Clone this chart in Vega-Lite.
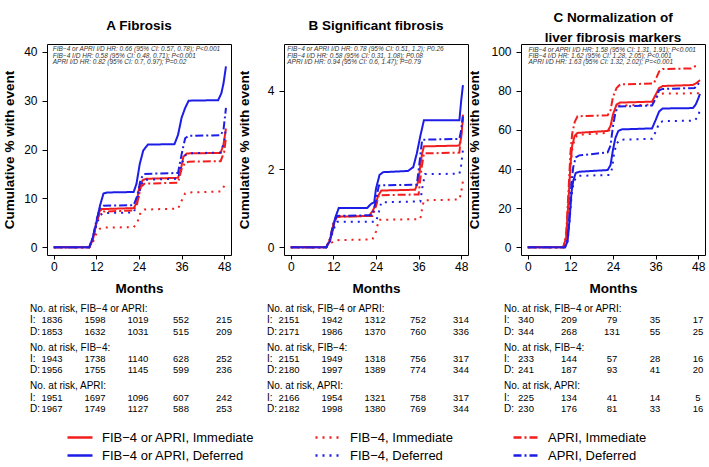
{
"$schema": "https://vega.github.io/schema/vega-lite/v6.json",
"background": "white",
"padding": {"left": 2, "top": 10, "right": 5, "bottom": 5},
"config": {
  "font": "Liberation Sans",
  "view": {"stroke": "#000", "strokeWidth": 1},
  "axis": {"grid": false, "domain": false, "tickColor": "#000", "labelColor": "#000", "titleColor": "#000", "labelFontSize": 12, "titleFontSize": 13.5, "titleFontWeight": "bold", "labelFont": "Liberation Sans", "titleFont": "Liberation Sans"},
  "axisX": {"tickSize": 4, "labelPadding": 2, "titlePadding": 9},
  "axisY": {"tickSize": 5, "labelPadding": 5},
  "title": {"fontSize": 13.5, "fontWeight": "bold", "color": "#000", "font": "Liberation Sans", "anchor": "middle", "baseline": "bottom", "lineHeight": 20},
  "legend": {"orient": "bottom", "direction": "horizontal", "columns": 3, "symbolType": "stroke", "symbolSize": 625, "symbolStrokeWidth": 2.5, "labelFontSize": 13, "labelFont": "Liberation Sans", "labelColor": "#000", "columnPadding": 59, "rowPadding": 3, "clipHeight": 15, "labelOffset": 8, "labelLimit": 400, "offset": -3, "padding": 19}
},
"datasets": {
"curves": [
{"p":"A","s":"FIB−4 or APRI, Immediate","m":0,"v":0},{"p":"A","s":"FIB−4 or APRI, Immediate","m":10,"v":0},{"p":"A","s":"FIB−4 or APRI, Immediate","m":11,"v":1.5},{"p":"A","s":"FIB−4 or APRI, Immediate","m":12,"v":5},{"p":"A","s":"FIB−4 or APRI, Immediate","m":12.7,"v":7.2},{"p":"A","s":"FIB−4 or APRI, Immediate","m":13.5,"v":7.8},{"p":"A","s":"FIB−4 or APRI, Immediate","m":22.5,"v":8},{"p":"A","s":"FIB−4 or APRI, Immediate","m":23.3,"v":9},{"p":"A","s":"FIB−4 or APRI, Immediate","m":24,"v":12},{"p":"A","s":"FIB−4 or APRI, Immediate","m":25,"v":13.7},{"p":"A","s":"FIB−4 or APRI, Immediate","m":26,"v":14},{"p":"A","s":"FIB−4 or APRI, Immediate","m":35,"v":14.2},{"p":"A","s":"FIB−4 or APRI, Immediate","m":35.8,"v":16},{"p":"A","s":"FIB−4 or APRI, Immediate","m":36.5,"v":18.5},{"p":"A","s":"FIB−4 or APRI, Immediate","m":37.5,"v":19.2},{"p":"A","s":"FIB−4 or APRI, Immediate","m":47,"v":19.3},{"p":"A","s":"FIB−4 or APRI, Immediate","m":47.8,"v":21},{"p":"A","s":"FIB−4 or APRI, Immediate","m":48.5,"v":24.3},
{"p":"A","s":"FIB−4 or APRI, Deferred","m":0,"v":0},{"p":"A","s":"FIB−4 or APRI, Deferred","m":10,"v":0},{"p":"A","s":"FIB−4 or APRI, Deferred","m":11,"v":2},{"p":"A","s":"FIB−4 or APRI, Deferred","m":12,"v":5},{"p":"A","s":"FIB−4 or APRI, Deferred","m":13,"v":8.5},{"p":"A","s":"FIB−4 or APRI, Deferred","m":14,"v":11},{"p":"A","s":"FIB−4 or APRI, Deferred","m":15,"v":11.2},{"p":"A","s":"FIB−4 or APRI, Deferred","m":22.5,"v":11.3},{"p":"A","s":"FIB−4 or APRI, Deferred","m":23.3,"v":13},{"p":"A","s":"FIB−4 or APRI, Deferred","m":24.2,"v":17},{"p":"A","s":"FIB−4 or APRI, Deferred","m":25.2,"v":19.8},{"p":"A","s":"FIB−4 or APRI, Deferred","m":26.5,"v":21},{"p":"A","s":"FIB−4 or APRI, Deferred","m":34,"v":21.1},{"p":"A","s":"FIB−4 or APRI, Deferred","m":35,"v":23},{"p":"A","s":"FIB−4 or APRI, Deferred","m":36,"v":26.5},{"p":"A","s":"FIB−4 or APRI, Deferred","m":37,"v":28.5},{"p":"A","s":"FIB−4 or APRI, Deferred","m":38,"v":30},{"p":"A","s":"FIB−4 or APRI, Deferred","m":46.3,"v":30.1},{"p":"A","s":"FIB−4 or APRI, Deferred","m":47.2,"v":31.5},{"p":"A","s":"FIB−4 or APRI, Deferred","m":47.8,"v":33.5},{"p":"A","s":"FIB−4 or APRI, Deferred","m":48.5,"v":37},
{"p":"A","s":"FIB−4, Immediate","m":0,"v":0},{"p":"A","s":"FIB−4, Immediate","m":10,"v":0},{"p":"A","s":"FIB−4, Immediate","m":11,"v":1},{"p":"A","s":"FIB−4, Immediate","m":12,"v":2.8},{"p":"A","s":"FIB−4, Immediate","m":13,"v":3.8},{"p":"A","s":"FIB−4, Immediate","m":14,"v":4},{"p":"A","s":"FIB−4, Immediate","m":22.5,"v":4.1},{"p":"A","s":"FIB−4, Immediate","m":23.5,"v":5},{"p":"A","s":"FIB−4, Immediate","m":24.5,"v":7.2},{"p":"A","s":"FIB−4, Immediate","m":25.5,"v":7.7},{"p":"A","s":"FIB−4, Immediate","m":35,"v":7.9},{"p":"A","s":"FIB−4, Immediate","m":36,"v":9.5},{"p":"A","s":"FIB−4, Immediate","m":37,"v":11},{"p":"A","s":"FIB−4, Immediate","m":38,"v":11.2},{"p":"A","s":"FIB−4, Immediate","m":47,"v":11.4},{"p":"A","s":"FIB−4, Immediate","m":48,"v":12.5},{"p":"A","s":"FIB−4, Immediate","m":48.5,"v":13.5},
{"p":"A","s":"FIB−4, Deferred","m":0,"v":0},{"p":"A","s":"FIB−4, Deferred","m":10,"v":0},{"p":"A","s":"FIB−4, Deferred","m":11,"v":1.5},{"p":"A","s":"FIB−4, Deferred","m":12,"v":4.5},{"p":"A","s":"FIB−4, Deferred","m":13,"v":6.5},{"p":"A","s":"FIB−4, Deferred","m":14,"v":7},{"p":"A","s":"FIB−4, Deferred","m":22.5,"v":7.1},{"p":"A","s":"FIB−4, Deferred","m":23.5,"v":9},{"p":"A","s":"FIB−4, Deferred","m":24.5,"v":12.5},{"p":"A","s":"FIB−4, Deferred","m":25.5,"v":13.8},{"p":"A","s":"FIB−4, Deferred","m":35,"v":14},{"p":"A","s":"FIB−4, Deferred","m":36,"v":17},{"p":"A","s":"FIB−4, Deferred","m":37,"v":18.8},{"p":"A","s":"FIB−4, Deferred","m":38,"v":19.2},{"p":"A","s":"FIB−4, Deferred","m":47,"v":19.4},{"p":"A","s":"FIB−4, Deferred","m":48,"v":21.5},{"p":"A","s":"FIB−4, Deferred","m":48.5,"v":24.5},
{"p":"A","s":"APRI, Immediate","m":0,"v":0},{"p":"A","s":"APRI, Immediate","m":10,"v":0},{"p":"A","s":"APRI, Immediate","m":11,"v":1.5},{"p":"A","s":"APRI, Immediate","m":12,"v":5},{"p":"A","s":"APRI, Immediate","m":13,"v":7},{"p":"A","s":"APRI, Immediate","m":14,"v":7.3},{"p":"A","s":"APRI, Immediate","m":22.5,"v":7.5},{"p":"A","s":"APRI, Immediate","m":23.5,"v":9},{"p":"A","s":"APRI, Immediate","m":24.5,"v":12.3},{"p":"A","s":"APRI, Immediate","m":25.5,"v":13},{"p":"A","s":"APRI, Immediate","m":35,"v":13.2},{"p":"A","s":"APRI, Immediate","m":36,"v":16},{"p":"A","s":"APRI, Immediate","m":37,"v":17.3},{"p":"A","s":"APRI, Immediate","m":38,"v":17.5},{"p":"A","s":"APRI, Immediate","m":47,"v":17.6},{"p":"A","s":"APRI, Immediate","m":48,"v":19.5},{"p":"A","s":"APRI, Immediate","m":48.5,"v":22.5},
{"p":"A","s":"APRI, Deferred","m":0,"v":0},{"p":"A","s":"APRI, Deferred","m":10,"v":0},{"p":"A","s":"APRI, Deferred","m":11,"v":2},{"p":"A","s":"APRI, Deferred","m":12,"v":5.5},{"p":"A","s":"APRI, Deferred","m":13,"v":8},{"p":"A","s":"APRI, Deferred","m":14,"v":8.5},{"p":"A","s":"APRI, Deferred","m":22.5,"v":8.6},{"p":"A","s":"APRI, Deferred","m":23.5,"v":10.5},{"p":"A","s":"APRI, Deferred","m":24.5,"v":14},{"p":"A","s":"APRI, Deferred","m":25.5,"v":15},{"p":"A","s":"APRI, Deferred","m":35,"v":15.2},{"p":"A","s":"APRI, Deferred","m":36,"v":19},{"p":"A","s":"APRI, Deferred","m":37,"v":22.3},{"p":"A","s":"APRI, Deferred","m":38,"v":22.8},{"p":"A","s":"APRI, Deferred","m":47,"v":22.9},{"p":"A","s":"APRI, Deferred","m":47.8,"v":24},{"p":"A","s":"APRI, Deferred","m":48.5,"v":28.5},
{"p":"B","s":"FIB−4 or APRI, Immediate","m":0,"v":0},{"p":"B","s":"FIB−4 or APRI, Immediate","m":10,"v":0},{"p":"B","s":"FIB−4 or APRI, Immediate","m":10.8,"v":0.15},{"p":"B","s":"FIB−4 or APRI, Immediate","m":11.5,"v":0.35},{"p":"B","s":"FIB−4 or APRI, Immediate","m":12,"v":0.6},{"p":"B","s":"FIB−4 or APRI, Immediate","m":12.5,"v":0.72},{"p":"B","s":"FIB−4 or APRI, Immediate","m":13,"v":0.78},{"p":"B","s":"FIB−4 or APRI, Immediate","m":22,"v":0.8},{"p":"B","s":"FIB−4 or APRI, Immediate","m":23,"v":0.92},{"p":"B","s":"FIB−4 or APRI, Immediate","m":24,"v":1.1},{"p":"B","s":"FIB−4 or APRI, Immediate","m":24.5,"v":1.3},{"p":"B","s":"FIB−4 or APRI, Immediate","m":25.5,"v":1.45},{"p":"B","s":"FIB−4 or APRI, Immediate","m":35,"v":1.47},{"p":"B","s":"FIB−4 or APRI, Immediate","m":36,"v":1.7},{"p":"B","s":"FIB−4 or APRI, Immediate","m":36.5,"v":2.1},{"p":"B","s":"FIB−4 or APRI, Immediate","m":37,"v":2.4},{"p":"B","s":"FIB−4 or APRI, Immediate","m":37.5,"v":2.58},{"p":"B","s":"FIB−4 or APRI, Immediate","m":47.5,"v":2.6},{"p":"B","s":"FIB−4 or APRI, Immediate","m":48,"v":2.8},{"p":"B","s":"FIB−4 or APRI, Immediate","m":48.5,"v":3.3},
{"p":"B","s":"FIB−4 or APRI, Deferred","m":0,"v":0},{"p":"B","s":"FIB−4 or APRI, Deferred","m":10,"v":0},{"p":"B","s":"FIB−4 or APRI, Deferred","m":11,"v":0.15},{"p":"B","s":"FIB−4 or APRI, Deferred","m":12,"v":0.5},{"p":"B","s":"FIB−4 or APRI, Deferred","m":12.5,"v":0.75},{"p":"B","s":"FIB−4 or APRI, Deferred","m":13.5,"v":1},{"p":"B","s":"FIB−4 or APRI, Deferred","m":21.5,"v":1},{"p":"B","s":"FIB−4 or APRI, Deferred","m":22.5,"v":1.1},{"p":"B","s":"FIB−4 or APRI, Deferred","m":23.5,"v":1.15},{"p":"B","s":"FIB−4 or APRI, Deferred","m":24,"v":1.5},{"p":"B","s":"FIB−4 or APRI, Deferred","m":25,"v":1.85},{"p":"B","s":"FIB−4 or APRI, Deferred","m":26,"v":1.92},{"p":"B","s":"FIB−4 or APRI, Deferred","m":33,"v":1.95},{"p":"B","s":"FIB−4 or APRI, Deferred","m":34.5,"v":2.05},{"p":"B","s":"FIB−4 or APRI, Deferred","m":35.5,"v":2.4},{"p":"B","s":"FIB−4 or APRI, Deferred","m":36.5,"v":2.85},{"p":"B","s":"FIB−4 or APRI, Deferred","m":37.5,"v":3.25},{"p":"B","s":"FIB−4 or APRI, Deferred","m":47.5,"v":3.25},{"p":"B","s":"FIB−4 or APRI, Deferred","m":48,"v":3.75},{"p":"B","s":"FIB−4 or APRI, Deferred","m":48.5,"v":4.15},
{"p":"B","s":"FIB−4, Immediate","m":0,"v":0},{"p":"B","s":"FIB−4, Immediate","m":10,"v":0},{"p":"B","s":"FIB−4, Immediate","m":11,"v":0.08},{"p":"B","s":"FIB−4, Immediate","m":12,"v":0.15},{"p":"B","s":"FIB−4, Immediate","m":13,"v":0.18},{"p":"B","s":"FIB−4, Immediate","m":23,"v":0.2},{"p":"B","s":"FIB−4, Immediate","m":24,"v":0.4},{"p":"B","s":"FIB−4, Immediate","m":24.8,"v":0.7},{"p":"B","s":"FIB−4, Immediate","m":36.5,"v":0.72},{"p":"B","s":"FIB−4, Immediate","m":37,"v":1},{"p":"B","s":"FIB−4, Immediate","m":37.5,"v":1.2},{"p":"B","s":"FIB−4, Immediate","m":47.5,"v":1.22},{"p":"B","s":"FIB−4, Immediate","m":48,"v":1.4},{"p":"B","s":"FIB−4, Immediate","m":48.5,"v":1.7},
{"p":"B","s":"FIB−4, Deferred","m":0,"v":0},{"p":"B","s":"FIB−4, Deferred","m":10,"v":0},{"p":"B","s":"FIB−4, Deferred","m":11,"v":0.15},{"p":"B","s":"FIB−4, Deferred","m":12,"v":0.45},{"p":"B","s":"FIB−4, Deferred","m":13,"v":0.65},{"p":"B","s":"FIB−4, Deferred","m":24,"v":0.65},{"p":"B","s":"FIB−4, Deferred","m":24.8,"v":0.9},{"p":"B","s":"FIB−4, Deferred","m":25.5,"v":1.15},{"p":"B","s":"FIB−4, Deferred","m":36.5,"v":1.17},{"p":"B","s":"FIB−4, Deferred","m":37,"v":1.5},{"p":"B","s":"FIB−4, Deferred","m":37.8,"v":1.87},{"p":"B","s":"FIB−4, Deferred","m":47.5,"v":1.88},{"p":"B","s":"FIB−4, Deferred","m":48,"v":2.1},{"p":"B","s":"FIB−4, Deferred","m":48.5,"v":2.5},
{"p":"B","s":"APRI, Immediate","m":0,"v":0},{"p":"B","s":"APRI, Immediate","m":10,"v":0},{"p":"B","s":"APRI, Immediate","m":11,"v":0.2},{"p":"B","s":"APRI, Immediate","m":12,"v":0.6},{"p":"B","s":"APRI, Immediate","m":13,"v":0.78},{"p":"B","s":"APRI, Immediate","m":23,"v":0.8},{"p":"B","s":"APRI, Immediate","m":24,"v":1.05},{"p":"B","s":"APRI, Immediate","m":24.8,"v":1.33},{"p":"B","s":"APRI, Immediate","m":36,"v":1.35},{"p":"B","s":"APRI, Immediate","m":36.8,"v":2},{"p":"B","s":"APRI, Immediate","m":37.5,"v":2.4},{"p":"B","s":"APRI, Immediate","m":47.5,"v":2.42},{"p":"B","s":"APRI, Immediate","m":48,"v":2.9},{"p":"B","s":"APRI, Immediate","m":48.5,"v":3.4},
{"p":"B","s":"APRI, Deferred","m":0,"v":0},{"p":"B","s":"APRI, Deferred","m":10,"v":0},{"p":"B","s":"APRI, Deferred","m":11,"v":0.2},{"p":"B","s":"APRI, Deferred","m":12,"v":0.6},{"p":"B","s":"APRI, Deferred","m":13,"v":0.8},{"p":"B","s":"APRI, Deferred","m":23,"v":0.82},{"p":"B","s":"APRI, Deferred","m":24,"v":1.2},{"p":"B","s":"APRI, Deferred","m":24.8,"v":1.58},{"p":"B","s":"APRI, Deferred","m":35.5,"v":1.6},{"p":"B","s":"APRI, Deferred","m":36.3,"v":2.2},{"p":"B","s":"APRI, Deferred","m":37,"v":2.75},{"p":"B","s":"APRI, Deferred","m":47.5,"v":2.77},{"p":"B","s":"APRI, Deferred","m":48,"v":3},{"p":"B","s":"APRI, Deferred","m":48.5,"v":3.35},
{"p":"C","s":"FIB−4 or APRI, Immediate","m":0,"v":0},{"p":"C","s":"FIB−4 or APRI, Immediate","m":10,"v":0},{"p":"C","s":"FIB−4 or APRI, Immediate","m":10.8,"v":5},{"p":"C","s":"FIB−4 or APRI, Immediate","m":11.5,"v":25},{"p":"C","s":"FIB−4 or APRI, Immediate","m":12,"v":42},{"p":"C","s":"FIB−4 or APRI, Immediate","m":12.5,"v":52},{"p":"C","s":"FIB−4 or APRI, Immediate","m":13.2,"v":57},{"p":"C","s":"FIB−4 or APRI, Immediate","m":14,"v":58.5},{"p":"C","s":"FIB−4 or APRI, Immediate","m":22.5,"v":59.5},{"p":"C","s":"FIB−4 or APRI, Immediate","m":23.3,"v":62},{"p":"C","s":"FIB−4 or APRI, Immediate","m":24,"v":68},{"p":"C","s":"FIB−4 or APRI, Immediate","m":25,"v":73},{"p":"C","s":"FIB−4 or APRI, Immediate","m":26,"v":74},{"p":"C","s":"FIB−4 or APRI, Immediate","m":35,"v":74.5},{"p":"C","s":"FIB−4 or APRI, Immediate","m":36,"v":78},{"p":"C","s":"FIB−4 or APRI, Immediate","m":37,"v":81.5},{"p":"C","s":"FIB−4 or APRI, Immediate","m":38,"v":82.5},{"p":"C","s":"FIB−4 or APRI, Immediate","m":46.5,"v":83},{"p":"C","s":"FIB−4 or APRI, Immediate","m":47.5,"v":84},{"p":"C","s":"FIB−4 or APRI, Immediate","m":48.5,"v":85.5},
{"p":"C","s":"FIB−4 or APRI, Deferred","m":0,"v":0},{"p":"C","s":"FIB−4 or APRI, Deferred","m":10.5,"v":0},{"p":"C","s":"FIB−4 or APRI, Deferred","m":11.2,"v":3},{"p":"C","s":"FIB−4 or APRI, Deferred","m":11.8,"v":15},{"p":"C","s":"FIB−4 or APRI, Deferred","m":12.3,"v":28},{"p":"C","s":"FIB−4 or APRI, Deferred","m":12.8,"v":34},{"p":"C","s":"FIB−4 or APRI, Deferred","m":13.5,"v":38},{"p":"C","s":"FIB−4 or APRI, Deferred","m":14.5,"v":38.6},{"p":"C","s":"FIB−4 or APRI, Deferred","m":22.5,"v":39.5},{"p":"C","s":"FIB−4 or APRI, Deferred","m":23.3,"v":42},{"p":"C","s":"FIB−4 or APRI, Deferred","m":24,"v":50},{"p":"C","s":"FIB−4 or APRI, Deferred","m":24.7,"v":56},{"p":"C","s":"FIB−4 or APRI, Deferred","m":25.5,"v":59.5},{"p":"C","s":"FIB−4 or APRI, Deferred","m":26.5,"v":60.3},{"p":"C","s":"FIB−4 or APRI, Deferred","m":35,"v":60.8},{"p":"C","s":"FIB−4 or APRI, Deferred","m":36,"v":65},{"p":"C","s":"FIB−4 or APRI, Deferred","m":37,"v":69.5},{"p":"C","s":"FIB−4 or APRI, Deferred","m":38,"v":71},{"p":"C","s":"FIB−4 or APRI, Deferred","m":46.5,"v":71.2},{"p":"C","s":"FIB−4 or APRI, Deferred","m":47.3,"v":73},{"p":"C","s":"FIB−4 or APRI, Deferred","m":48,"v":76},{"p":"C","s":"FIB−4 or APRI, Deferred","m":48.5,"v":78.5},
{"p":"C","s":"FIB−4, Immediate","m":0,"v":0},{"p":"C","s":"FIB−4, Immediate","m":10,"v":0},{"p":"C","s":"FIB−4, Immediate","m":10.8,"v":4},{"p":"C","s":"FIB−4, Immediate","m":11.5,"v":23},{"p":"C","s":"FIB−4, Immediate","m":12,"v":40},{"p":"C","s":"FIB−4, Immediate","m":12.5,"v":50},{"p":"C","s":"FIB−4, Immediate","m":13.2,"v":55.5},{"p":"C","s":"FIB−4, Immediate","m":14,"v":57.5},{"p":"C","s":"FIB−4, Immediate","m":22.5,"v":58.5},{"p":"C","s":"FIB−4, Immediate","m":23.3,"v":61},{"p":"C","s":"FIB−4, Immediate","m":24,"v":67},{"p":"C","s":"FIB−4, Immediate","m":25,"v":72},{"p":"C","s":"FIB−4, Immediate","m":26,"v":72.5},{"p":"C","s":"FIB−4, Immediate","m":35,"v":73},{"p":"C","s":"FIB−4, Immediate","m":36,"v":76},{"p":"C","s":"FIB−4, Immediate","m":37,"v":78.3},{"p":"C","s":"FIB−4, Immediate","m":38,"v":78.6},{"p":"C","s":"FIB−4, Immediate","m":48.5,"v":78.8},
{"p":"C","s":"FIB−4, Deferred","m":0,"v":0},{"p":"C","s":"FIB−4, Deferred","m":10.5,"v":0},{"p":"C","s":"FIB−4, Deferred","m":11.2,"v":3},{"p":"C","s":"FIB−4, Deferred","m":11.8,"v":14},{"p":"C","s":"FIB−4, Deferred","m":12.3,"v":26},{"p":"C","s":"FIB−4, Deferred","m":12.8,"v":32},{"p":"C","s":"FIB−4, Deferred","m":13.5,"v":35.5},{"p":"C","s":"FIB−4, Deferred","m":14.5,"v":36.5},{"p":"C","s":"FIB−4, Deferred","m":23,"v":37},{"p":"C","s":"FIB−4, Deferred","m":23.7,"v":40},{"p":"C","s":"FIB−4, Deferred","m":24.3,"v":48},{"p":"C","s":"FIB−4, Deferred","m":25,"v":53},{"p":"C","s":"FIB−4, Deferred","m":26,"v":55},{"p":"C","s":"FIB−4, Deferred","m":35,"v":55.5},{"p":"C","s":"FIB−4, Deferred","m":36,"v":59},{"p":"C","s":"FIB−4, Deferred","m":37,"v":63.5},{"p":"C","s":"FIB−4, Deferred","m":38,"v":64.5},{"p":"C","s":"FIB−4, Deferred","m":47,"v":64.8},{"p":"C","s":"FIB−4, Deferred","m":48,"v":67},{"p":"C","s":"FIB−4, Deferred","m":48.5,"v":70.5},
{"p":"C","s":"APRI, Immediate","m":0,"v":0},{"p":"C","s":"APRI, Immediate","m":10,"v":0},{"p":"C","s":"APRI, Immediate","m":10.8,"v":6},{"p":"C","s":"APRI, Immediate","m":11.5,"v":30},{"p":"C","s":"APRI, Immediate","m":12,"v":48},{"p":"C","s":"APRI, Immediate","m":12.5,"v":58},{"p":"C","s":"APRI, Immediate","m":13.2,"v":64},{"p":"C","s":"APRI, Immediate","m":14,"v":67},{"p":"C","s":"APRI, Immediate","m":22.5,"v":67.5},{"p":"C","s":"APRI, Immediate","m":23.3,"v":70},{"p":"C","s":"APRI, Immediate","m":24,"v":77},{"p":"C","s":"APRI, Immediate","m":25,"v":81.5},{"p":"C","s":"APRI, Immediate","m":26,"v":83.3},{"p":"C","s":"APRI, Immediate","m":35.5,"v":83.8},{"p":"C","s":"APRI, Immediate","m":36.3,"v":87},{"p":"C","s":"APRI, Immediate","m":37,"v":90},{"p":"C","s":"APRI, Immediate","m":38,"v":91.2},{"p":"C","s":"APRI, Immediate","m":46,"v":91.5},{"p":"C","s":"APRI, Immediate","m":47,"v":92.5},{"p":"C","s":"APRI, Immediate","m":48,"v":93.2},
{"p":"C","s":"APRI, Deferred","m":0,"v":0},{"p":"C","s":"APRI, Deferred","m":10.5,"v":0},{"p":"C","s":"APRI, Deferred","m":11.2,"v":4},{"p":"C","s":"APRI, Deferred","m":11.8,"v":18},{"p":"C","s":"APRI, Deferred","m":12.3,"v":33},{"p":"C","s":"APRI, Deferred","m":12.8,"v":41},{"p":"C","s":"APRI, Deferred","m":13.5,"v":46},{"p":"C","s":"APRI, Deferred","m":14.5,"v":47},{"p":"C","s":"APRI, Deferred","m":22.5,"v":48.5},{"p":"C","s":"APRI, Deferred","m":23.3,"v":52},{"p":"C","s":"APRI, Deferred","m":24,"v":62},{"p":"C","s":"APRI, Deferred","m":24.7,"v":69},{"p":"C","s":"APRI, Deferred","m":25.5,"v":72},{"p":"C","s":"APRI, Deferred","m":35,"v":72.5},{"p":"C","s":"APRI, Deferred","m":36,"v":76},{"p":"C","s":"APRI, Deferred","m":37,"v":80.3},{"p":"C","s":"APRI, Deferred","m":38,"v":81},{"p":"C","s":"APRI, Deferred","m":47,"v":81.5},{"p":"C","s":"APRI, Deferred","m":48,"v":83.5},{"p":"C","s":"APRI, Deferred","m":48.5,"v":85}
],
"notes": [
{"p":"A","t":"FIB−4 or APRI I/D HR: 0.66 (95% CI: 0.57, 0.78); P<0.001\nFIB−4 I/D HR: 0.58 (95% CI: 0.48, 0.71); P<0.001\nAPRI I/D HR: 0.82 (95% CI: 0.7, 0.97); P=0.02"},
{"p":"B","t":"FIB−4 or APRI I/D HR: 0.78 (95% CI: 0.51, 1.2); P0.26\nFIB−4 I/D HR: 0.58 (95% CI: 0.31, 1.08); P0.08\nAPRI I/D HR: 0.94 (95% CI: 0.6, 1.47); P=0.79"},
{"p":"C","t":"FIB−4 or APRI I/D HR: 1.58 (95% CI: 1.31, 1.91); P<0.001\nFIB−4 I/D HR: 1.62 (95% CI: 1.28, 2.05); P<0.001\nAPRI I/D HR: 1.63 (95% CI: 1.32, 2.02); P=<0.001"}
],
"risk": [
{"p":"A","g":"FIB−4 or APRI","a":"I","m":0,"n":1836},{"p":"A","g":"FIB−4 or APRI","a":"I","m":12,"n":1598},{"p":"A","g":"FIB−4 or APRI","a":"I","m":24,"n":1019},{"p":"A","g":"FIB−4 or APRI","a":"I","m":36,"n":552},{"p":"A","g":"FIB−4 or APRI","a":"I","m":48,"n":215},
{"p":"A","g":"FIB−4 or APRI","a":"D","m":0,"n":1853},{"p":"A","g":"FIB−4 or APRI","a":"D","m":12,"n":1632},{"p":"A","g":"FIB−4 or APRI","a":"D","m":24,"n":1031},{"p":"A","g":"FIB−4 or APRI","a":"D","m":36,"n":515},{"p":"A","g":"FIB−4 or APRI","a":"D","m":48,"n":209},
{"p":"A","g":"FIB−4","a":"I","m":0,"n":1943},{"p":"A","g":"FIB−4","a":"I","m":12,"n":1738},{"p":"A","g":"FIB−4","a":"I","m":24,"n":1140},{"p":"A","g":"FIB−4","a":"I","m":36,"n":628},{"p":"A","g":"FIB−4","a":"I","m":48,"n":252},
{"p":"A","g":"FIB−4","a":"D","m":0,"n":1956},{"p":"A","g":"FIB−4","a":"D","m":12,"n":1755},{"p":"A","g":"FIB−4","a":"D","m":24,"n":1145},{"p":"A","g":"FIB−4","a":"D","m":36,"n":599},{"p":"A","g":"FIB−4","a":"D","m":48,"n":236},
{"p":"A","g":"APRI","a":"I","m":0,"n":1951},{"p":"A","g":"APRI","a":"I","m":12,"n":1697},{"p":"A","g":"APRI","a":"I","m":24,"n":1096},{"p":"A","g":"APRI","a":"I","m":36,"n":607},{"p":"A","g":"APRI","a":"I","m":48,"n":242},
{"p":"A","g":"APRI","a":"D","m":0,"n":1967},{"p":"A","g":"APRI","a":"D","m":12,"n":1749},{"p":"A","g":"APRI","a":"D","m":24,"n":1127},{"p":"A","g":"APRI","a":"D","m":36,"n":588},{"p":"A","g":"APRI","a":"D","m":48,"n":253},
{"p":"B","g":"FIB−4 or APRI","a":"I","m":0,"n":2151},{"p":"B","g":"FIB−4 or APRI","a":"I","m":12,"n":1942},{"p":"B","g":"FIB−4 or APRI","a":"I","m":24,"n":1312},{"p":"B","g":"FIB−4 or APRI","a":"I","m":36,"n":752},{"p":"B","g":"FIB−4 or APRI","a":"I","m":48,"n":314},
{"p":"B","g":"FIB−4 or APRI","a":"D","m":0,"n":2171},{"p":"B","g":"FIB−4 or APRI","a":"D","m":12,"n":1986},{"p":"B","g":"FIB−4 or APRI","a":"D","m":24,"n":1370},{"p":"B","g":"FIB−4 or APRI","a":"D","m":36,"n":760},{"p":"B","g":"FIB−4 or APRI","a":"D","m":48,"n":336},
{"p":"B","g":"FIB−4","a":"I","m":0,"n":2151},{"p":"B","g":"FIB−4","a":"I","m":12,"n":1949},{"p":"B","g":"FIB−4","a":"I","m":24,"n":1318},{"p":"B","g":"FIB−4","a":"I","m":36,"n":756},{"p":"B","g":"FIB−4","a":"I","m":48,"n":317},
{"p":"B","g":"FIB−4","a":"D","m":0,"n":2180},{"p":"B","g":"FIB−4","a":"D","m":12,"n":1997},{"p":"B","g":"FIB−4","a":"D","m":24,"n":1389},{"p":"B","g":"FIB−4","a":"D","m":36,"n":774},{"p":"B","g":"FIB−4","a":"D","m":48,"n":344},
{"p":"B","g":"APRI","a":"I","m":0,"n":2166},{"p":"B","g":"APRI","a":"I","m":12,"n":1954},{"p":"B","g":"APRI","a":"I","m":24,"n":1321},{"p":"B","g":"APRI","a":"I","m":36,"n":758},{"p":"B","g":"APRI","a":"I","m":48,"n":317},
{"p":"B","g":"APRI","a":"D","m":0,"n":2182},{"p":"B","g":"APRI","a":"D","m":12,"n":1998},{"p":"B","g":"APRI","a":"D","m":24,"n":1380},{"p":"B","g":"APRI","a":"D","m":36,"n":769},{"p":"B","g":"APRI","a":"D","m":48,"n":344},
{"p":"C","g":"FIB−4 or APRI","a":"I","m":0,"n":340},{"p":"C","g":"FIB−4 or APRI","a":"I","m":12,"n":209},{"p":"C","g":"FIB−4 or APRI","a":"I","m":24,"n":79},{"p":"C","g":"FIB−4 or APRI","a":"I","m":36,"n":35},{"p":"C","g":"FIB−4 or APRI","a":"I","m":48,"n":17},
{"p":"C","g":"FIB−4 or APRI","a":"D","m":0,"n":344},{"p":"C","g":"FIB−4 or APRI","a":"D","m":12,"n":268},{"p":"C","g":"FIB−4 or APRI","a":"D","m":24,"n":131},{"p":"C","g":"FIB−4 or APRI","a":"D","m":36,"n":55},{"p":"C","g":"FIB−4 or APRI","a":"D","m":48,"n":25},
{"p":"C","g":"FIB−4","a":"I","m":0,"n":233},{"p":"C","g":"FIB−4","a":"I","m":12,"n":144},{"p":"C","g":"FIB−4","a":"I","m":24,"n":57},{"p":"C","g":"FIB−4","a":"I","m":36,"n":28},{"p":"C","g":"FIB−4","a":"I","m":48,"n":16},
{"p":"C","g":"FIB−4","a":"D","m":0,"n":241},{"p":"C","g":"FIB−4","a":"D","m":12,"n":187},{"p":"C","g":"FIB−4","a":"D","m":24,"n":93},{"p":"C","g":"FIB−4","a":"D","m":36,"n":41},{"p":"C","g":"FIB−4","a":"D","m":48,"n":20},
{"p":"C","g":"APRI","a":"I","m":0,"n":225},{"p":"C","g":"APRI","a":"I","m":12,"n":134},{"p":"C","g":"APRI","a":"I","m":24,"n":41},{"p":"C","g":"APRI","a":"I","m":36,"n":14},{"p":"C","g":"APRI","a":"I","m":48,"n":5},
{"p":"C","g":"APRI","a":"D","m":0,"n":230},{"p":"C","g":"APRI","a":"D","m":12,"n":176},{"p":"C","g":"APRI","a":"D","m":24,"n":81},{"p":"C","g":"APRI","a":"D","m":36,"n":33},{"p":"C","g":"APRI","a":"D","m":48,"n":16}
],
"risklab": [
{"p":"A","g":"FIB−4 or APRI","a":"h","t":"No. at risk, FIB−4 or APRI:"},{"p":"A","g":"FIB−4 or APRI","a":"I","t":"I:"},{"p":"A","g":"FIB−4 or APRI","a":"D","t":"D:"},
{"p":"A","g":"FIB−4","a":"h","t":"No. at risk, FIB−4:"},{"p":"A","g":"FIB−4","a":"I","t":"I:"},{"p":"A","g":"FIB−4","a":"D","t":"D:"},
{"p":"A","g":"APRI","a":"h","t":"No. at risk, APRI:"},{"p":"A","g":"APRI","a":"I","t":"I:"},{"p":"A","g":"APRI","a":"D","t":"D:"},
{"p":"B","g":"FIB−4 or APRI","a":"h","t":"No. at risk, FIB−4 or APRI:"},{"p":"B","g":"FIB−4 or APRI","a":"I","t":"I:"},{"p":"B","g":"FIB−4 or APRI","a":"D","t":"D:"},
{"p":"B","g":"FIB−4","a":"h","t":"No. at risk, FIB−4:"},{"p":"B","g":"FIB−4","a":"I","t":"I:"},{"p":"B","g":"FIB−4","a":"D","t":"D:"},
{"p":"B","g":"APRI","a":"h","t":"No. at risk, APRI:"},{"p":"B","g":"APRI","a":"I","t":"I:"},{"p":"B","g":"APRI","a":"D","t":"D:"},
{"p":"C","g":"FIB−4 or APRI","a":"h","t":"No. at risk, FIB−4 or APRI:"},{"p":"C","g":"FIB−4 or APRI","a":"I","t":"I:"},{"p":"C","g":"FIB−4 or APRI","a":"D","t":"D:"},
{"p":"C","g":"FIB−4","a":"h","t":"No. at risk, FIB−4:"},{"p":"C","g":"FIB−4","a":"I","t":"I:"},{"p":"C","g":"FIB−4","a":"D","t":"D:"},
{"p":"C","g":"APRI","a":"h","t":"No. at risk, APRI:"},{"p":"C","g":"APRI","a":"I","t":"I:"},{"p":"C","g":"APRI","a":"D","t":"D:"}
]
},
"columns": 3,
"spacing": {"row": 54, "column": 53},
"bounds": "flush",
"concat": [
{
"width": 184, "height": 211,
"title": {"text": "A Fibrosis", "offset": 12},
"layer": [
{"data": {"name": "curves"}, "transform": [{"filter": "datum.p === 'A'"}],
 "mark": {"type": "line", "strokeWidth": 2},
 "encoding": {
  "x": {"field": "m", "type": "quantitative", "scale": {"domain": [-1.92, 49.92], "nice": false, "zero": false}, "axis": {"values": [0, 12, 24, 36, 48], "title": "Months"}},
  "y": {"field": "v", "type": "quantitative", "scale": {"domain": [-1.6, 41.6], "nice": false, "zero": false}, "axis": {"values": [0, 10, 20, 30, 40], "title": "Cumulative % with event", "titlePadding": 7}},
  "color": {"field": "s", "type": "nominal", "scale": {"domain": ["FIB−4 or APRI, Immediate", "FIB−4, Immediate", "APRI, Immediate", "FIB−4 or APRI, Deferred", "FIB−4, Deferred", "APRI, Deferred"], "range": ["#f21d1d", "#f21d1d", "#f21d1d", "#1d1de8", "#1d1de8", "#1d1de8"]}, "legend": {"title": null}},
  "strokeDash": {"field": "s", "type": "nominal", "scale": {"domain": ["FIB−4 or APRI, Immediate", "FIB−4, Immediate", "APRI, Immediate", "FIB−4 or APRI, Deferred", "FIB−4, Deferred", "APRI, Deferred"], "range": [[1, 0], [2, 5], [8, 3, 2, 3], [1, 0], [2, 5], [8, 3, 2, 3]]}, "legend": {"title": null}}
 }},
{"data": {"name": "notes"}, "transform": [{"filter": "datum.p === 'A'"}],
 "mark": {"type": "text", "align": "left", "baseline": "top", "fontSize": 6.5, "fontStyle": "italic", "lineBreak": "\n", "lineHeight": 6.2, "color": "#333"},
 "encoding": {"x": {"datum": -0.3}, "y": {"datum": 41.1}, "text": {"field": "t", "type": "nominal"}}}
]
},
{
"width": 184, "height": 211,
"title": {"text": "B Significant fibrosis", "offset": 12},
"layer": [
{"data": {"name": "curves"}, "transform": [{"filter": "datum.p === 'B'"}],
 "mark": {"type": "line", "strokeWidth": 2},
 "encoding": {
  "x": {"field": "m", "type": "quantitative", "scale": {"domain": [-1.92, 49.92], "nice": false, "zero": false}, "axis": {"values": [0, 12, 24, 36, 48], "title": "Months"}},
  "y": {"field": "v", "type": "quantitative", "scale": {"domain": [-0.2, 5.2], "nice": false, "zero": false}, "axis": {"values": [0, 2, 4], "title": "Cumulative % with event", "titlePadding": 16}},
  "color": {"field": "s", "type": "nominal", "scale": {"domain": ["FIB−4 or APRI, Immediate", "FIB−4, Immediate", "APRI, Immediate", "FIB−4 or APRI, Deferred", "FIB−4, Deferred", "APRI, Deferred"], "range": ["#f21d1d", "#f21d1d", "#f21d1d", "#1d1de8", "#1d1de8", "#1d1de8"]}, "legend": {"title": null}},
  "strokeDash": {"field": "s", "type": "nominal", "scale": {"domain": ["FIB−4 or APRI, Immediate", "FIB−4, Immediate", "APRI, Immediate", "FIB−4 or APRI, Deferred", "FIB−4, Deferred", "APRI, Deferred"], "range": [[1, 0], [2, 5], [8, 3, 2, 3], [1, 0], [2, 5], [8, 3, 2, 3]]}, "legend": {"title": null}}
 }},
{"data": {"name": "notes"}, "transform": [{"filter": "datum.p === 'B'"}],
 "mark": {"type": "text", "align": "left", "baseline": "top", "fontSize": 6.5, "fontStyle": "italic", "lineBreak": "\n", "lineHeight": 6.2, "color": "#333"},
 "encoding": {"x": {"datum": -1.0}, "y": {"datum": 5.14}, "text": {"field": "t", "type": "nominal"}}}
]
},
{
"width": 184, "height": 211,
"title": {"text": ["C Normalization of", "liver fibrosis markers"], "offset": 0},
"layer": [
{"data": {"name": "curves"}, "transform": [{"filter": "datum.p === 'C'"}],
 "mark": {"type": "line", "strokeWidth": 2},
 "encoding": {
  "x": {"field": "m", "type": "quantitative", "scale": {"domain": [-1.92, 49.92], "nice": false, "zero": false}, "axis": {"values": [0, 12, 24, 36, 48], "title": "Months"}},
  "y": {"field": "v", "type": "quantitative", "scale": {"domain": [-4, 104], "nice": false, "zero": false}, "axis": {"values": [0, 20, 40, 60, 80, 100], "title": "Cumulative % with event", "titlePadding": 9}},
  "color": {"field": "s", "type": "nominal", "scale": {"domain": ["FIB−4 or APRI, Immediate", "FIB−4, Immediate", "APRI, Immediate", "FIB−4 or APRI, Deferred", "FIB−4, Deferred", "APRI, Deferred"], "range": ["#f21d1d", "#f21d1d", "#f21d1d", "#1d1de8", "#1d1de8", "#1d1de8"]}, "legend": {"title": null}},
  "strokeDash": {"field": "s", "type": "nominal", "scale": {"domain": ["FIB−4 or APRI, Immediate", "FIB−4, Immediate", "APRI, Immediate", "FIB−4 or APRI, Deferred", "FIB−4, Deferred", "APRI, Deferred"], "range": [[1, 0], [2, 5], [8, 3, 2, 3], [1, 0], [2, 5], [8, 3, 2, 3]]}, "legend": {"title": null}}
 }},
{"data": {"name": "notes"}, "transform": [{"filter": "datum.p === 'C'"}],
 "mark": {"type": "text", "align": "left", "baseline": "top", "fontSize": 6.5, "fontStyle": "italic", "lineBreak": "\n", "lineHeight": 6.2, "color": "#333"},
 "encoding": {"x": {"datum": 0.2}, "y": {"datum": 102.7}, "text": {"field": "t", "type": "nominal"}}}
]
},
{
"width": 184, "height": 100, "view": {"stroke": null},
"layer": [
{"data": {"name": "risk"}, "transform": [{"filter": "datum.p === 'A'"}],
 "mark": {"type": "text", "fontSize": 9.5, "align": "center", "baseline": "middle", "color": "#000"},
 "encoding": {
  "x": {"field": "m", "type": "quantitative", "scale": {"domain": [-1.395, 49.95], "nice": false, "zero": false}, "axis": null},
  "y": {"field": "g", "type": "nominal", "scale": {"type": "band", "domain": ["FIB−4 or APRI", "FIB−4", "APRI"], "paddingInner": 0.403, "paddingOuter": 0}, "axis": null},
  "yOffset": {"field": "a", "type": "nominal", "scale": {"type": "point", "domain": ["h", "I", "D"], "padding": 0}},
  "text": {"field": "n", "type": "quantitative", "format": "d"}
 }},
{"data": {"name": "risklab"}, "transform": [{"filter": "datum.p === 'A'"}],
 "mark": {"type": "text", "fontSize": 10, "align": "left", "baseline": "middle", "color": "#000"},
 "encoding": {
  "x": {"datum": -6.14},
  "y": {"field": "g", "type": "nominal"},
  "yOffset": {"field": "a", "type": "nominal"},
  "text": {"field": "t", "type": "nominal"}
 }}
]
},
{
"width": 184, "height": 100, "view": {"stroke": null},
"layer": [
{"data": {"name": "risk"}, "transform": [{"filter": "datum.p === 'B'"}],
 "mark": {"type": "text", "fontSize": 9.5, "align": "center", "baseline": "middle", "color": "#000"},
 "encoding": {
  "x": {"field": "m", "type": "quantitative", "scale": {"domain": [-1.395, 49.95], "nice": false, "zero": false}, "axis": null},
  "y": {"field": "g", "type": "nominal", "scale": {"type": "band", "domain": ["FIB−4 or APRI", "FIB−4", "APRI"], "paddingInner": 0.403, "paddingOuter": 0}, "axis": null},
  "yOffset": {"field": "a", "type": "nominal", "scale": {"type": "point", "domain": ["h", "I", "D"], "padding": 0}},
  "text": {"field": "n", "type": "quantitative", "format": "d"}
 }},
{"data": {"name": "risklab"}, "transform": [{"filter": "datum.p === 'B'"}],
 "mark": {"type": "text", "fontSize": 10, "align": "left", "baseline": "middle", "color": "#000"},
 "encoding": {
  "x": {"datum": -6.14},
  "y": {"field": "g", "type": "nominal"},
  "yOffset": {"field": "a", "type": "nominal"},
  "text": {"field": "t", "type": "nominal"}
 }}
]
},
{
"width": 184, "height": 100, "view": {"stroke": null},
"layer": [
{"data": {"name": "risk"}, "transform": [{"filter": "datum.p === 'C'"}],
 "mark": {"type": "text", "fontSize": 9.5, "align": "center", "baseline": "middle", "color": "#000"},
 "encoding": {
  "x": {"field": "m", "type": "quantitative", "scale": {"domain": [-1.395, 49.95], "nice": false, "zero": false}, "axis": null},
  "y": {"field": "g", "type": "nominal", "scale": {"type": "band", "domain": ["FIB−4 or APRI", "FIB−4", "APRI"], "paddingInner": 0.403, "paddingOuter": 0}, "axis": null},
  "yOffset": {"field": "a", "type": "nominal", "scale": {"type": "point", "domain": ["h", "I", "D"], "padding": 0}},
  "text": {"field": "n", "type": "quantitative", "format": "d"}
 }},
{"data": {"name": "risklab"}, "transform": [{"filter": "datum.p === 'C'"}],
 "mark": {"type": "text", "fontSize": 10, "align": "left", "baseline": "middle", "color": "#000"},
 "encoding": {
  "x": {"datum": -6.14},
  "y": {"field": "g", "type": "nominal"},
  "yOffset": {"field": "a", "type": "nominal"},
  "text": {"field": "t", "type": "nominal"}
 }}
]
}
]
}
